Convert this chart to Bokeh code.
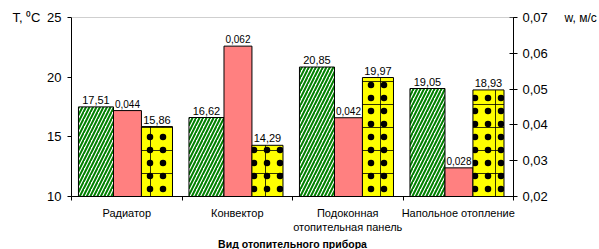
import numpy as np
from bokeh.plotting import figure
from bokeh.models import Range1d, LinearAxis, FixedTicker, Span, Label
from bokeh.embed import file_html
from bokeh.resources import INLINE

categories = ["Радиатор", "Конвектор", "Подоконная\nотопительная панель", "Напольное отопление"]
t_series1 = [17.51, 16.62, 20.85, 19.05]
w_series = [0.044, 0.062, 0.042, 0.028]
t_series2 = [15.86, 14.29, 19.97, 18.93]
left_ticks = [10, 15, 20, 25]
right_ticks = [0.02, 0.03, 0.04, 0.05, 0.06, 0.07]
left_unit = "T, ⁰C"
right_unit = "w, м/с"
x_title = "Вид отопительного прибора"

FONT = "Liberation Sans"

def fmt(v, nd):
    return f"{v:.{nd}f}".replace(".", ",")

idx = np.arange(len(categories))

p = figure(frame_width=442, frame_height=179, output_backend="svg", toolbar_location=None,
           x_range=Range1d(0, 4), y_range=Range1d(10, 25),
           min_border_left=71, min_border_right=86, min_border_top=17, min_border_bottom=53)
p.extra_y_ranges = {"w": Range1d(0.02, 0.07)}
p.outline_line_color = None
p.xgrid.visible = False
p.ygrid.visible = False
p.background_fill_color = "white"

# top gray line
p.add_layout(Span(location=25, dimension="width", line_color="#a0a0a0", line_width=1))

# bars
g_l, g_r = 0.063, 0.38
r_l, r_r = 0.38, 0.633
y_l, y_r = 0.633, 0.914

p.vbar(x=idx + (g_l + g_r) / 2, width=g_r - g_l, top=t_series1, bottom=10,
       fill_color="white", line_color="black", line_width=1,
       hatch_pattern="/", hatch_color="#008000", hatch_weight=2, hatch_scale=7)
p.vbar(x=idx + (r_l + r_r) / 2, width=r_r - r_l, top=w_series, bottom=0.02,
       y_range_name="w", fill_color="#FF8080", line_color="black", line_width=1)
p.vbar(x=idx + (y_l + y_r) / 2, width=y_r - y_l, top=t_series2, bottom=10,
       fill_color="#FFFF00", line_color=None,
       hatch_pattern="+", hatch_color="black", hatch_weight=0.8, hatch_scale=23)
p.vbar(x=idx + (y_l + y_r) / 2, width=y_r - y_l, top=t_series2, bottom=10,
       fill_color=None, line_color="black", line_width=1,
       hatch_pattern="dot", hatch_color="black", hatch_weight=1, hatch_scale=13)

# data labels
for i in idx:
    p.add_layout(Label(x=i + (g_l + g_r) / 2, y=t_series1[i], text=fmt(t_series1[i], 2),
                       y_offset=3, text_align="center", text_baseline="bottom",
                       text_font=FONT, text_font_size="11px", text_color="black"))
    p.add_layout(Label(x=i + (r_l + r_r) / 2, y=w_series[i], y_range_name="w",
                       text=fmt(w_series[i], 3),
                       y_offset=3, text_align="center", text_baseline="bottom",
                       text_font=FONT, text_font_size="10px", text_color="black"))
    p.add_layout(Label(x=i + (y_l + y_r) / 2, y=t_series2[i], text=fmt(t_series2[i], 2),
                       y_offset=3, text_align="center", text_baseline="bottom",
                       text_font=FONT, text_font_size="11px", text_color="black"))

# x axis: category labels at centres, boundary ticks as minor ticks
p.xaxis.ticker = FixedTicker(ticks=list(idx + 0.5), minor_ticks=list(range(len(categories) + 1)))
p.xaxis.major_label_overrides = {float(i + 0.5): c for i, c in enumerate(categories)}
p.xaxis.major_tick_line_color = None
p.xaxis.major_tick_in = 0
p.xaxis.major_tick_out = 4
p.xaxis.minor_tick_in = 0
p.xaxis.minor_tick_out = 4
p.xaxis.minor_tick_line_color = "black"
p.xaxis.axis_line_color = "black"
p.xaxis.major_label_standoff = 6
p.xaxis.major_label_text_font = FONT
p.xaxis.major_label_text_font_size = "11px"
p.xaxis.major_label_text_color = "black"
p.xaxis.axis_label = x_title
p.xaxis.axis_label_text_font = FONT
p.xaxis.axis_label_text_font_size = "10.5px"
p.xaxis.axis_label_text_font_style = "bold"
p.xaxis.axis_label_text_color = "black"
p.xaxis.axis_label_standoff = 2

p.yaxis.ticker = FixedTicker(ticks=left_ticks)
p.yaxis.major_tick_in = 0
p.yaxis.major_tick_out = 4
p.yaxis.minor_tick_line_color = None
p.yaxis.major_label_standoff = 6
p.yaxis.major_label_text_font = FONT
p.yaxis.major_label_text_font_size = "13px"
p.yaxis.major_label_text_color = "black"
p.yaxis.axis_line_color = "black"

ra = LinearAxis(y_range_name="w", ticker=FixedTicker(ticks=right_ticks))
ra.major_tick_in = 4
ra.major_tick_out = 4
ra.minor_tick_line_color = None
ra.major_label_standoff = 5
ra.major_label_text_font = FONT
ra.major_label_text_font_size = "13px"
ra.major_label_text_color = "black"
ra.major_label_overrides = {t: fmt(t, 2) for t in right_ticks}
ra.axis_line_color = "black"
p.add_layout(ra, "right")

# unit captions as single-tick companion axes (stacked outside the main axes)
la2 = LinearAxis(ticker=FixedTicker(ticks=[left_ticks[-1]]))
la2.major_label_overrides = {left_ticks[-1]: left_unit}
la2.axis_line_color = None
la2.major_tick_line_color = None
la2.minor_tick_line_color = None
la2.major_tick_in = 0
la2.major_tick_out = 0
la2.major_label_standoff = 4
la2.major_label_text_font = FONT
la2.major_label_text_font_size = "13px"
la2.major_label_text_color = "black"
p.add_layout(la2, "left")

ra2 = LinearAxis(y_range_name="w", ticker=FixedTicker(ticks=[right_ticks[-1]]))
ra2.major_label_overrides = {right_ticks[-1]: right_unit}
ra2.axis_line_color = None
ra2.major_tick_line_color = None
ra2.minor_tick_line_color = None
ra2.major_tick_in = 0
ra2.major_tick_out = 0
ra2.major_label_standoff = 14
ra2.major_label_text_font = FONT
ra2.major_label_text_font_size = "12px"
ra2.major_label_text_color = "black"
p.add_layout(ra2, "right")

open("out.html", "w").write(file_html(p, INLINE))
